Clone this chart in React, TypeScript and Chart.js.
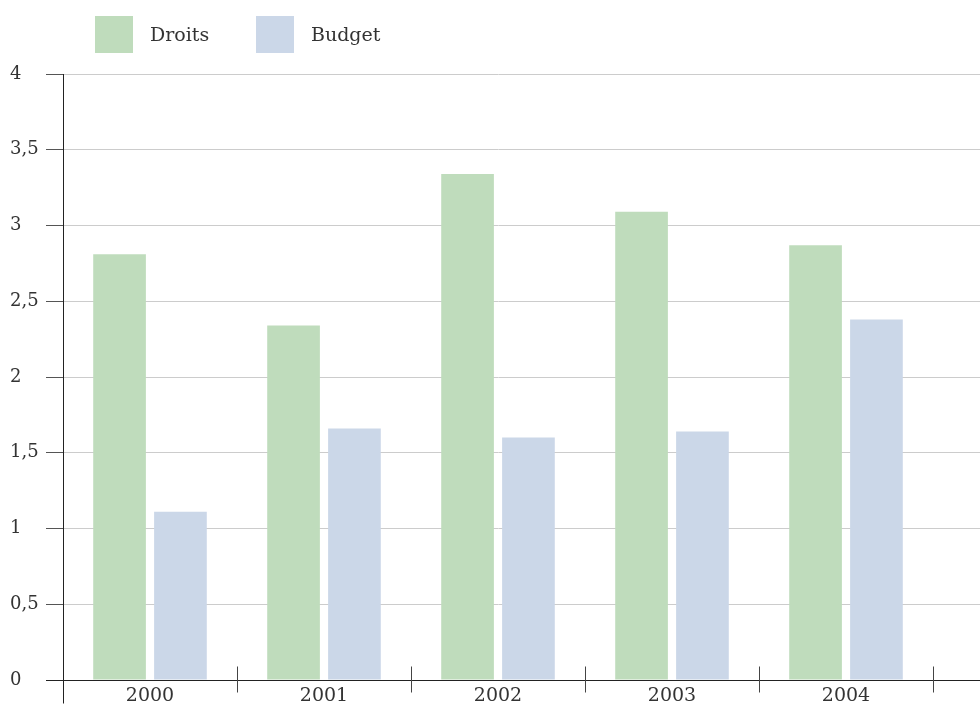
import React, { useEffect, useRef } from 'react';
import { Chart, registerables } from 'chart.js';

Chart.register(...registerables);

const categories = ['2000', '2001', '2002', '2003', '2004'];
const droits = [2.81, 2.34, 3.34, 3.09, 2.87];
const budget = [1.11, 1.66, 1.6, 1.64, 2.38];
const seriesLabels = ['Droits', 'Budget'];
const yTicks = [0, 0.5, 1, 1.5, 2, 2.5, 3, 3.5, 4];

const FONT = '"DejaVu Serif", serif';
const TEXT = '#333333';
const GREEN = '#bfdcbc';
const BLUE = '#cbd7e8';
const GRID = '#cccccc';
const AXIS = '#222222';

function align(chart: any, pixel: number, width: number) {
  const dpr = chart.currentDevicePixelRatio || 1;
  const half = width / 2;
  return Math.round((pixel - half) * dpr) / dpr + half;
}

const legendPlugin = {
  id: 'customLegend',
  afterDraw(chart: any) {
    const ctx = chart.ctx;
    ctx.save();
    ctx.font = `19px ${FONT}`;
    ctx.textBaseline = 'middle';
    ctx.textAlign = 'left';
    let x = 95;
    chart.data.datasets.forEach((ds: any) => {
      ctx.fillStyle = ds.backgroundColor;
      ctx.fillRect(x, 16, 38, 37);
      ctx.fillStyle = TEXT;
      ctx.fillText(ds.label, x + 55, 36);
      x += 161;
    });
    ctx.restore();
  },
};

const axisPlugin = {
  id: 'axisExtras',
  afterDraw(chart: any) {
    const { ctx, chartArea, scales } = chart;
    const xs = scales.x;
    const ys = scales.y;
    ctx.save();
    ctx.lineWidth = 1;
    yTicks.forEach((v) => {
      const py = align(chart, ys.getPixelForValue(v), 1);
      ctx.strokeStyle = v === 0 ? AXIS : GRID;
      ctx.beginPath();
      ctx.moveTo(chartArea.right, py);
      ctx.lineTo(chart.width, py);
      ctx.stroke();
    });
    const y0 = align(chart, ys.getPixelForValue(0), 1);
    ctx.strokeStyle = AXIS;
    ctx.beginPath();
    ctx.moveTo(chartArea.left - 17, y0);
    ctx.lineTo(chart.width, y0);
    ctx.stroke();
    const px0 = align(chart, chartArea.left, 1);
    ctx.beginPath();
    ctx.moveTo(px0, chartArea.top);
    ctx.lineTo(px0, y0 + 23);
    ctx.stroke();
    ctx.strokeStyle = '#444444';
    for (let i = 1; i <= categories.length; i++) {
      const px = align(chart, xs.getPixelForValue(i - 0.5), 1);
      ctx.beginPath();
      ctx.moveTo(px, y0 - 14);
      ctx.lineTo(px, y0 + 12);
      ctx.stroke();
    }
    ctx.restore();
  },
};

export default function App() {
  const ref = useRef<HTMLCanvasElement | null>(null);

  useEffect(() => {
    if (!ref.current) return;
    const chart = new Chart(ref.current, {
      type: 'bar',
      data: {
        labels: categories,
        datasets: [
          {
            label: seriesLabels[0],
            data: droits,
            backgroundColor: GREEN,
            categoryPercentage: 0.7,
            barPercentage: 0.865,
          },
          {
            label: seriesLabels[1],
            data: budget,
            backgroundColor: BLUE,
            categoryPercentage: 0.7,
            barPercentage: 0.865,
          },
        ],
      },
      options: {
        animation: false,
        responsive: false,
        events: [],
        layout: { padding: { left: 10, top: 74, right: 47, bottom: 0 } },
        plugins: {
          legend: { display: false },
          tooltip: { enabled: false },
        },
        scales: {
          x: {
            grid: { display: false, drawTicks: false },
            border: { display: false },
            ticks: { color: TEXT, font: { family: FONT, size: 19 }, padding: 5 },
            afterFit: (s: any) => {
              s.height = 27;
            },
          },
          y: {
            min: 0,
            max: 4,
            afterBuildTicks: (s: any) => {
              s.ticks = yTicks.map((v) => ({ value: v }));
            },
            ticks: {
              color: TEXT,
              font: { family: FONT, size: 18 },
              crossAlign: 'far',
              callback: (v: any) => String(v).replace('.', ','),
            },
            grid: {
              color: (c: any) => (c.tick && c.tick.value === 0 ? AXIS : GRID),
              tickColor: '#555555',
              tickLength: 17,
              lineWidth: 1,
            },
            border: { display: true, color: AXIS, width: 1 },
            afterFit: (s: any) => {
              s.width = 53;
            },
          },
        },
      } as any,
      plugins: [legendPlugin, axisPlugin],
    });
    return () => chart.destroy();
  }, []);

  return (
    <div style={{ position: 'fixed', left: 0, top: 0, width: 980, height: 707, background: '#fff' }}>
      <canvas ref={ref} width={980} height={707} style={{ display: 'block' }} />
    </div>
  );
}
